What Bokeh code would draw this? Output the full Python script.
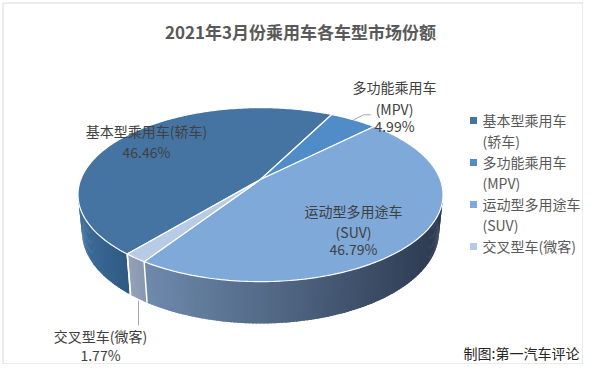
import numpy as np
from bokeh.plotting import figure
from bokeh.models import Range1d
from bokeh.core.properties import value
from bokeh.embed import file_html
from bokeh.resources import INLINE

# ---------------- data ----------------
title_text = "2021年3月份乘用车各车型市场份额"
categories = ["基本型乘用车(轿车)", "多功能乘用车(MPV)", "运动型多用途车(SUV)", "交叉型车(微客)"]
shares = [46.46, 4.99, 46.79, 1.77]
legend_lines = [["基本型乘用车", "(轿车)"], ["多功能乘用车", "(MPV)"],
                ["运动型多用途车", "(SUV)"], ["交叉型车(微客)"]]
label_lines = [["基本型乘用车(轿车)"], ["多功能乘用车", "(MPV)"],
               ["运动型多用途车", "(SUV)"], ["交叉型车(微客)"]]
source_note = "制图:第一汽车评论"

# ---------------- style ----------------
top_colors = ["#4574A3", "#4F8CC8", "#7EA9D9", "#B7CBE7"]
wall_from = ["#3F6E9B", "#4A83BB", "#6E8AAD", "#94A2B8"]
wall_to = ["#2F5A84", "#3E6E9E", "#2C3A50", "#8999B0"]
FONT = value("Noto Sans CJK SC")

# 3D projection parameters (pixel space, y down)
HX, HY = 260.0, 179.0
F, D, E, T = 914.0, 5.085, np.radians(28.0), 0.238
START = 220.0
ce, se = np.cos(E), np.sin(E)


def proj(phi_deg, Y):
    ph = np.radians(phi_deg)
    X, Z = np.sin(ph), -np.cos(ph)
    yc = Y * ce - Z * se
    zc = D - (Z * ce + Y * se)
    return HX + F * X / zc, HY - F * yc / zc


def hex2rgb(h):
    return np.array([int(h[i:i + 2], 16) for i in (1, 3, 5)], dtype=float)


def lerp(c0, c1, t):
    c = hex2rgb(c0) * (1 - t) + hex2rgb(c1) * t
    return "#%02x%02x%02x" % tuple(int(round(v)) for v in c)


fr = np.array(shares) / sum(shares)
bounds = START + 360.0 * np.concatenate([[0], np.cumsum(fr)])

W, H = 583, 364
p = figure(width=W, height=H, output_backend="svg", toolbar_location=None,
           x_range=Range1d(0, W), y_range=Range1d(H, 0),
           min_border=0, background_fill_color="white", border_fill_color="white")
p.axis.visible = False
p.grid.visible = False
p.outline_line_color = None

# chart border
p.line([2.5, W - 0.5, W - 0.5, 2.5, 2.5], [2.5, 2.5, H - 0.5, H - 0.5, 2.5],
       line_color="#D9D9D9", line_width=1)

# ---------------- side walls ----------------
STEP = 1.0
segs = []
for i in range(len(shares)):
    a0, a1 = bounds[i], bounds[i + 1]
    n = max(2, int(np.ceil((a1 - a0) / STEP)))
    ang = np.linspace(a0, a1, n + 1)
    items = []
    for k in range(n):
        mid = 0.5 * (ang[k] + ang[k + 1])
        Zm = -np.cos(np.radians(mid))
        if Zm < -0.05:
            continue
        e1 = min(ang[k + 1] + 0.6 * (ang[1] - ang[0]), a1)
        x0, y0 = proj(ang[k], 0)
        x1, y1 = proj(e1, 0)
        x2, y2 = proj(e1, -T)
        x3, y3 = proj(ang[k], -T)
        items.append((Zm, [x0, x1, x2, x3], [y0, y1, y2, y3]))
    if not items:
        continue
    xs_all = [np.mean(it[1]) for it in items]
    lo, hi = min(xs_all), max(xs_all)
    for it, xm in zip(items, xs_all):
        t = 0 if hi == lo else (xm - lo) / (hi - lo)
        segs.append((it[0], it[1], it[2], lerp(wall_from[i], wall_to[i], t)))
segs.sort(key=lambda s: s[0])
p.patches([s[1] for s in segs], [s[2] for s in segs], fill_color=[s[3] for s in segs],
          line_color=None)

# white separators on the wall
for b in bounds:
    if -np.cos(np.radians(b)) > 0.25:
        xa, ya = proj(b, 0)
        xb, yb = proj(b, -T)
        p.line([xa, xb], [ya, yb], line_color="white", line_width=1.5)

# ---------------- top faces ----------------
txs, tys = [], []
for i in range(len(shares)):
    ang = np.linspace(bounds[i], bounds[i + 1], max(3, int((bounds[i + 1] - bounds[i]) / 1.0)))
    pts = [proj(a, 0) for a in ang]
    txs.append([HX] + [q[0] for q in pts])
    tys.append([HY] + [q[1] for q in pts])
p.patches(txs, tys, fill_color=top_colors, line_color="white", line_width=1.2)

# ---------------- data labels ----------------
pct = ["%.2f%%" % v for v in shares]
label_pos = [(146, [130, 151]), (394, [86, 108, 125]), (353, [210, 231, 248]), (100, [335, 354])]
lx, ly, lt = [], [], []
for i, (x, ys) in enumerate(label_pos):
    lines = label_lines[i] + [pct[i]]
    for txt, y in zip(lines, ys):
        lx.append(x); ly.append(y); lt.append(txt)
p.text(lx, ly, text=lt, text_font=FONT, text_font_size="14px", text_color="#404040",
       text_align="center", text_baseline="middle")

# leader lines
mid_mpv = 0.5 * (bounds[1] + bounds[2])
mx, my = proj(mid_mpv, 0)
p.line([mx, mx + 10, mx + 17], [my, my - 5, my - 5], line_color="#A6A6A6", line_width=1)
mid_x = 0.5 * (bounds[3] + bounds[4])
cx_, cy_ = proj(mid_x, -T)
p.line([cx_, cx_], [cy_ + 2, 325], line_color="#A6A6A6", line_width=1)

# ---------------- legend ----------------
gx, gy, gt, mxs, mys = [], [], [], [], []
row = 0
for i, lines in enumerate(legend_lines):
    mxs.append(473); mys.append(120 + 21 * row)
    for ln in lines:
        gx.append(482); gy.append(119 + 21 * row); gt.append(ln)
        row += 1
p.scatter(mxs, mys, marker="square", size=7, fill_color=top_colors, line_color=None)
p.text(gx, gy, text=gt, text_font=FONT, text_font_size="14px", text_color="#595959",
       text_align="left", text_baseline="middle")

# ---------------- title & note ----------------
p.text([300], [31], text=[title_text], text_font=FONT, text_font_size="17px",
       text_font_style="bold", text_color="#595959", text_align="center", text_baseline="middle")
p.text([579], [352], text=[source_note], text_font=FONT, text_font_size="14px",
       text_color="#262626", text_align="right", text_baseline="middle")

open("out.html", "w").write(file_html(p, INLINE))
